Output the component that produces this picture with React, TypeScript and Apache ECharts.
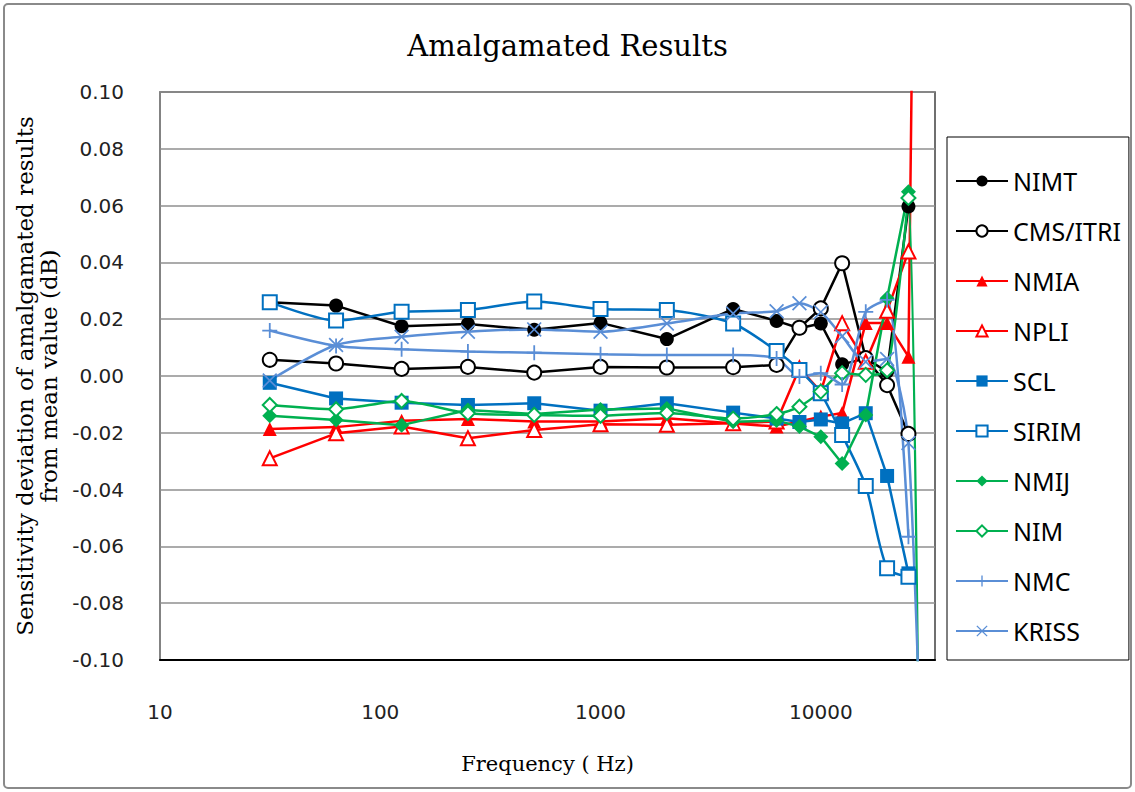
import React, { useEffect, useRef } from "react";
import * as echarts from "echarts";

const freqs = [31.5, 63, 125, 250, 500, 1000, 2000, 4000, 6300, 8000, 10000, 12500, 16000, 20000, 25000, 31500];

const NIMT = [0.026, 0.0248, 0.0175, 0.0183, 0.0163, 0.0187, 0.013, 0.0236, 0.0194, 0.0168, 0.0185, 0.0041, 0.0062, 0.0015, 0.0597, null];
const CMS_ITRI = [0.0057, 0.0044, 0.0025, 0.0032, 0.0012, 0.0032, 0.003, 0.0031, 0.0039, 0.017, 0.0238, 0.0397, 0.0063, -0.0032, -0.0204, null];
const NMIA = [-0.0187, -0.018, -0.0158, -0.0151, -0.016, -0.016, -0.0149, -0.0167, -0.0178, -0.016, -0.0143, -0.013, 0.0187, 0.0187, 0.0068, 0.68];
const NPLI = [-0.029, -0.0202, -0.0178, -0.0219, -0.019, -0.017, -0.0172, -0.0166, -0.016, 0.0027, -0.0055, 0.0186, 0.005, 0.023, 0.0438, null];
const SCL = [-0.0024, -0.0079, -0.0094, -0.0102, -0.0096, -0.0122, -0.0096, -0.0129, -0.015, -0.0162, -0.0153, -0.0167, -0.0131, -0.0352, -0.0695, null];
const SIRIM = [0.026, 0.0195, 0.0226, 0.0232, 0.0262, 0.0236, 0.0232, 0.0185, 0.0088, 0.0021, -0.0061, -0.0208, -0.0387, -0.0677, -0.0707, null];
const NMIJ = [-0.014, -0.0155, -0.0173, -0.012, -0.0134, -0.0118, -0.0114, -0.0161, -0.0157, -0.0178, -0.0214, -0.0308, -0.0137, 0.0274, 0.0649, null];
const NIM = [-0.0102, -0.0117, -0.0088, -0.0131, -0.0137, -0.014, -0.013, -0.015, -0.0134, -0.0108, -0.0055, 0.001, 0.0004, 0.002, 0.0627, -0.67];
const NMC = [0.016, 0.0106, 0.0094, 0.0086, 0.0082, 0.0077, 0.0074, 0.0074, 0.0062, -0.0002, 0.001, -0.003, 0.0226, 0.0268, -0.0566, null];
const KRISS = [-0.0016, 0.0109, 0.0138, 0.0156, 0.0164, 0.0156, 0.0185, 0.022, 0.0228, 0.0256, 0.0225, 0.014, 0.005, 0.006, -0.0236, -0.25];

const yTicks = [-0.1, -0.08, -0.06, -0.04, -0.02, 0, 0.02, 0.04, 0.06, 0.08, 0.1];
const xTickLabels = ["10", "100", "1000", "10000"];

const PLUS = "path://M0,4.4H10V5.6H0ZM4.4,0H5.6V10H4.4Z";
const CROSS = "path://M0.8,0L5,4.2L9.2,0L10,0.8L5.8,5L10,9.2L9.2,10L5,5.8L0.8,10L0,9.2L4.2,5L0,0.8Z";

const BLACK = "#000000";
const RED = "#FF0000";
const BLUE = "#0070C0";
const GREEN = "#00B050";
const LBLUE = "#5A8ED6";

const seriesDefs = [
  { name: "NIMT", data: NIMT, color: BLACK, symbol: "circle", size: 14, smooth: false },
  { name: "CMS/ITRI", data: CMS_ITRI, color: BLACK, symbol: "emptyCircle", size: 14, smooth: false },
  { name: "NMIA", data: NMIA, color: RED, symbol: "triangle", size: 14, smooth: false },
  { name: "NPLI", data: NPLI, color: RED, symbol: "emptyTriangle", size: 14, smooth: false },
  { name: "SCL", data: SCL, color: BLUE, symbol: "rect", size: 14, smooth: false },
  { name: "SIRIM", data: SIRIM, color: BLUE, symbol: "emptyRect", size: 14, smooth: 0.25 },
  { name: "NMIJ", data: NMIJ, color: GREEN, symbol: "diamond", size: 15, smooth: false },
  { name: "NIM", data: NIM, color: GREEN, symbol: "emptyDiamond", size: 14, smooth: 0.25 },
  { name: "NMC", data: NMC, color: LBLUE, symbol: PLUS, size: 15, smooth: 0.25 },
  { name: "KRISS", data: KRISS, color: LBLUE, symbol: CROSS, size: 15, smooth: 0.25 },
];

export default function App() {
  const ref = useRef<HTMLDivElement>(null);

  useEffect(() => {
    if (!ref.current) return;
    const chart = echarts.init(ref.current, undefined, { renderer: "svg" });
    const series = seriesDefs.map((s) => ({
      name: s.name,
      type: "line",
      data: freqs
        .map((f, i) => (s.data[i] === null ? null : [f, s.data[i]]))
        .filter((p) => p !== null),
      symbol: s.symbol,
      symbolSize: s.size,
      showAllSymbol: true,
      smooth: s.smooth,
      clip: true,
      lineStyle: { color: s.color, width: 2.5 },
      itemStyle: { color: s.color, borderWidth: 1.5 },
      emphasis: { disabled: true },
    }));

    chart.setOption({
      animation: false,
      backgroundColor: "#ffffff",
      title: {
        text: "Amalgamated Results",
        left: "center",
        top: 31,
        padding: [0, 0, 0, 11],
        textStyle: { fontFamily: "DejaVu Serif", fontSize: 29, fontWeight: "normal", color: "#000" },
      },
      graphic: [
        {
          type: "rect",
          shape: { x: 4, y: 4, width: 1127, height: 784, r: 4 },
          style: { fill: "none", stroke: "#8a8a8a", lineWidth: 2 },
          silent: true,
        },
      ],
      legend: {
        orient: "vertical",
        left: 947,
        top: 137,
        padding: [30, 8, 15, 8],
        itemGap: 22,
        itemWidth: 52,
        itemHeight: 14,
        borderColor: "#000",
        borderWidth: 1,
        textStyle: { fontFamily: "Noto Sans", fontSize: 25, color: "#000", lineHeight: 28 },
        data: seriesDefs.map((s) => s.name),
      },
      grid: {
        left: 160,
        right: 200,
        top: 92,
        bottom: 132,
        show: true,
        borderColor: "#404040",
        borderWidth: 1.5,
        backgroundColor: "transparent",
      },
      xAxis: {
        type: "log",
        logBase: 10,
        min: 10,
        max: 33000,
        name: "Frequency ( Hz)",
        nameLocation: "middle",
        nameGap: 93,
        nameTextStyle: { fontFamily: "DejaVu Serif", fontSize: 21, color: "#000" },
        axisLine: { onZero: false, lineStyle: { color: "#000", width: 2 } },
        axisTick: { show: false },
        splitLine: { show: false },
        minorTick: { show: false },
        axisLabel: {
          margin: 42,
          fontFamily: "DejaVu Sans",
          fontSize: 20,
          color: "#222",
          showMaxLabel: false,
          formatter: (v: number) => {
            const r = String(Math.round(v));
            return xTickLabels.includes(r) ? r : "";
          },
        },
      },
      yAxis: {
        type: "value",
        min: -0.1,
        max: 0.1,
        interval: 0.02,
        name: "Sensitivity deviation of amalgamated results\nfrom mean value (dB)",
        nameLocation: "middle",
        nameRotate: 90,
        nameGap: 87,
        nameTextStyle: { fontFamily: "DejaVu Serif", fontSize: 23, color: "#000", lineHeight: 24 },
        axisLine: { show: true, onZero: false, lineStyle: { color: "#8a8a8a", width: 1.5 } },
        axisTick: { show: false },
        splitLine: { show: true, lineStyle: { color: "#8f8f8f", width: 1.5 } },
        axisLabel: {
          margin: 36,
          fontFamily: "DejaVu Sans",
          fontSize: 20,
          color: "#222",
          formatter: (v: number) => {
            const nearest = yTicks.reduce((a, b) => (Math.abs(b - v) < Math.abs(a - v) ? b : a));
            return Math.abs(nearest) < 1e-9 ? "0.00" : nearest.toFixed(2);
          },
        },
      },
      series,
    });
    return () => chart.dispose();
  }, []);

  return (
    <div
      ref={ref}
      style={{ position: "fixed", left: 0, top: 0, width: 1135, height: 792, background: "#fff" }}
    />
  );
}
